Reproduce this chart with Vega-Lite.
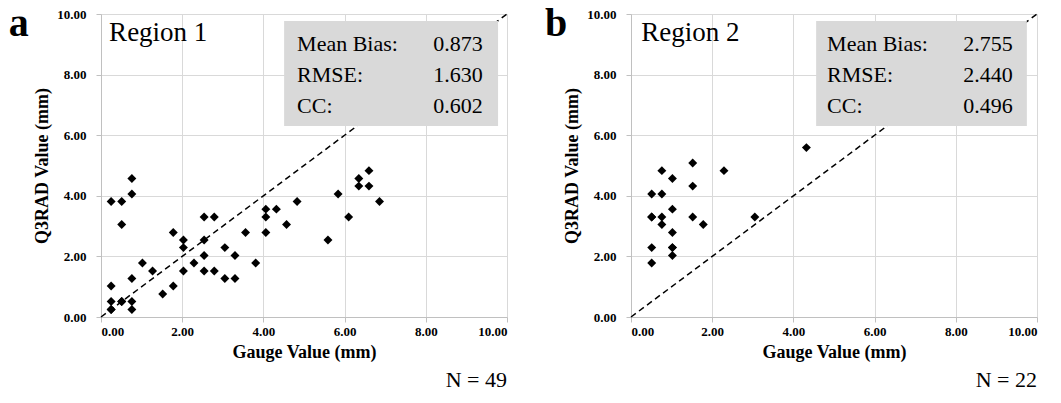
{
  "$schema": "https://vega.github.io/schema/vega-lite/v6.json",
  "padding": {"left": 8, "top": 4, "right": 5, "bottom": 5},
  "background": "white",
  "spacing": 36,
  "config": {
    "view": {"stroke": null},
    "axis": {
      "grid": true,
      "labelFont": "Liberation Serif", "labelFontWeight": "bold", "labelFontSize": 13, "labelColor": "black",
      "titleFont": "Liberation Serif", "titleFontWeight": "bold", "titleFontSize": 18, "titleColor": "black",
      "gridColor": "#d9d9d9", "domainColor": "#c0c0c0", "tickColor": "#c0c0c0", "tickSize": 5
    },
    "axisX": {"labelPadding": 3, "titlePadding": 5},
    "axisY": {"labelPadding": 10, "titlePadding": 5},
    "text": {"font": "Liberation Serif", "color": "black"}
  },
  "datasets": {
    "one": [{}],
    "region1": [
      {"gauge": 0.76, "q3rad": 4.57}, {"gauge": 0.76, "q3rad": 4.06}, {"gauge": 0.25, "q3rad": 3.81},
      {"gauge": 0.51, "q3rad": 3.81}, {"gauge": 0.51, "q3rad": 3.05}, {"gauge": 1.78, "q3rad": 2.79},
      {"gauge": 2.03, "q3rad": 2.54}, {"gauge": 2.03, "q3rad": 2.29}, {"gauge": 1.02, "q3rad": 1.78},
      {"gauge": 1.27, "q3rad": 1.52}, {"gauge": 0.76, "q3rad": 1.27}, {"gauge": 0.25, "q3rad": 1.02},
      {"gauge": 0.25, "q3rad": 0.51}, {"gauge": 0.25, "q3rad": 0.25}, {"gauge": 0.51, "q3rad": 0.51},
      {"gauge": 0.76, "q3rad": 0.51}, {"gauge": 0.76, "q3rad": 0.25}, {"gauge": 1.52, "q3rad": 0.76},
      {"gauge": 1.78, "q3rad": 1.02}, {"gauge": 2.03, "q3rad": 1.52}, {"gauge": 2.29, "q3rad": 1.78},
      {"gauge": 2.54, "q3rad": 2.54}, {"gauge": 2.54, "q3rad": 3.30}, {"gauge": 2.79, "q3rad": 3.30},
      {"gauge": 2.54, "q3rad": 2.03}, {"gauge": 2.54, "q3rad": 1.52}, {"gauge": 2.79, "q3rad": 1.52},
      {"gauge": 3.05, "q3rad": 2.29}, {"gauge": 3.05, "q3rad": 1.27}, {"gauge": 3.30, "q3rad": 2.03},
      {"gauge": 3.30, "q3rad": 1.27}, {"gauge": 3.56, "q3rad": 2.79}, {"gauge": 3.81, "q3rad": 1.78},
      {"gauge": 4.06, "q3rad": 3.56}, {"gauge": 4.06, "q3rad": 3.30}, {"gauge": 4.06, "q3rad": 2.79},
      {"gauge": 4.32, "q3rad": 3.56}, {"gauge": 4.57, "q3rad": 3.05}, {"gauge": 4.83, "q3rad": 3.81},
      {"gauge": 5.59, "q3rad": 2.54}, {"gauge": 5.84, "q3rad": 4.06}, {"gauge": 6.10, "q3rad": 3.30},
      {"gauge": 6.35, "q3rad": 4.57}, {"gauge": 6.35, "q3rad": 4.32}, {"gauge": 6.60, "q3rad": 4.83},
      {"gauge": 6.60, "q3rad": 4.32}, {"gauge": 6.86, "q3rad": 3.81}, {"gauge": 0.25, "q3rad": 0.25},
      {"gauge": 0.51, "q3rad": 0.51}
    ],
    "region2": [
      {"gauge": 0.51, "q3rad": 4.06}, {"gauge": 0.76, "q3rad": 4.06}, {"gauge": 0.76, "q3rad": 4.83},
      {"gauge": 1.02, "q3rad": 4.57}, {"gauge": 1.52, "q3rad": 5.08}, {"gauge": 1.52, "q3rad": 4.32},
      {"gauge": 2.29, "q3rad": 4.83}, {"gauge": 0.51, "q3rad": 3.30}, {"gauge": 0.76, "q3rad": 3.30},
      {"gauge": 0.76, "q3rad": 3.05}, {"gauge": 1.02, "q3rad": 3.56}, {"gauge": 1.02, "q3rad": 2.79},
      {"gauge": 1.52, "q3rad": 3.30}, {"gauge": 1.78, "q3rad": 3.05}, {"gauge": 3.05, "q3rad": 3.30},
      {"gauge": 0.51, "q3rad": 2.29}, {"gauge": 1.02, "q3rad": 2.29}, {"gauge": 1.02, "q3rad": 2.03},
      {"gauge": 0.51, "q3rad": 1.78}, {"gauge": 4.32, "q3rad": 5.59}, {"gauge": 0.51, "q3rad": 3.30},
      {"gauge": 1.02, "q3rad": 2.29}
    ]
  },
  "hconcat": [
    {
      "width": 406, "height": 303,
      "data": {"name": "one"},
      "encoding": {
        "x": {"type": "quantitative", "scale": {"domain": [0, 10], "nice": false},
              "axis": {"title": "Gauge Value (mm)", "values": [0, 2, 4, 6, 8, 10], "format": ".2f", "grid": true}},
        "y": {"type": "quantitative", "scale": {"domain": [0, 10], "nice": false},
              "axis": {"title": "Q3RAD Value (mm)", "values": [0, 2, 4, 6, 8, 10], "format": ".2f", "grid": true}}
      },
      "layer": [
        {"mark": {"type": "rule", "color": "black", "strokeWidth": 1.5, "strokeDash": [6, 4]},
         "encoding": {"x": {"datum": 0}, "y": {"datum": 0}, "x2": {"datum": 10}, "y2": {"datum": 10}}},
        {"mark": {"type": "rect", "color": "#d9d9d9"},
         "encoding": {"x": {"datum": 4.51}, "x2": {"datum": 9.78}, "y": {"datum": 6.30}, "y2": {"datum": 9.77}}},
        {"data": {"name": "region1"},
         "mark": {"type": "point", "shape": "diamond", "filled": true, "color": "black", "size": 80, "opacity": 1},
         "encoding": {"x": {"field": "gauge"}, "y": {"field": "q3rad"}}},
        {"mark": {"type": "text", "text": "a", "fontSize": 40, "fontWeight": "bold", "align": "left", "baseline": "alphabetic"},
         "encoding": {"x": {"datum": -2.27}, "y": {"datum": 9.27}}},
        {"mark": {"type": "text", "text": "Region 1", "fontSize": 27, "align": "left", "baseline": "alphabetic"},
         "encoding": {"x": {"datum": 0.2}, "y": {"datum": 9.11}}},
        {"mark": {"type": "text", "text": "Mean Bias:", "fontSize": 22, "align": "left", "baseline": "alphabetic"},
         "encoding": {"x": {"datum": 4.83}, "y": {"datum": 8.78}}},
        {"mark": {"type": "text", "text": "RMSE:", "fontSize": 22, "align": "left", "baseline": "alphabetic"},
         "encoding": {"x": {"datum": 4.83}, "y": {"datum": 7.76}}},
        {"mark": {"type": "text", "text": "CC:", "fontSize": 22, "align": "left", "baseline": "alphabetic"},
         "encoding": {"x": {"datum": 4.83}, "y": {"datum": 6.73}}},
        {"mark": {"type": "text", "text": "0.873", "fontSize": 22, "align": "right", "baseline": "alphabetic"},
         "encoding": {"x": {"datum": 9.40}, "y": {"datum": 8.78}}},
        {"mark": {"type": "text", "text": "1.630", "fontSize": 22, "align": "right", "baseline": "alphabetic"},
         "encoding": {"x": {"datum": 9.40}, "y": {"datum": 7.76}}},
        {"mark": {"type": "text", "text": "0.602", "fontSize": 22, "align": "right", "baseline": "alphabetic"},
         "encoding": {"x": {"datum": 9.40}, "y": {"datum": 6.73}}},
        {"mark": {"type": "text", "text": "N = 49", "fontSize": 22, "align": "right", "baseline": "middle"},
         "encoding": {"x": {"datum": 10.0}, "y": {"datum": -2.07}}}
      ]
    },
    {
      "width": 406, "height": 303,
      "data": {"name": "one"},
      "encoding": {
        "x": {"type": "quantitative", "scale": {"domain": [0, 10], "nice": false},
              "axis": {"title": "Gauge Value (mm)", "values": [0, 2, 4, 6, 8, 10], "format": ".2f", "grid": true}},
        "y": {"type": "quantitative", "scale": {"domain": [0, 10], "nice": false},
              "axis": {"title": "Q3RAD Value (mm)", "values": [0, 2, 4, 6, 8, 10], "format": ".2f", "grid": true}}
      },
      "layer": [
        {"mark": {"type": "rule", "color": "black", "strokeWidth": 1.5, "strokeDash": [6, 4]},
         "encoding": {"x": {"datum": 0}, "y": {"datum": 0}, "x2": {"datum": 10}, "y2": {"datum": 10}}},
        {"mark": {"type": "rect", "color": "#d9d9d9"},
         "encoding": {"x": {"datum": 4.56}, "x2": {"datum": 9.75}, "y": {"datum": 6.30}, "y2": {"datum": 9.77}}},
        {"data": {"name": "region2"},
         "mark": {"type": "point", "shape": "diamond", "filled": true, "color": "black", "size": 80, "opacity": 1},
         "encoding": {"x": {"field": "gauge"}, "y": {"field": "q3rad"}}},
        {"mark": {"type": "text", "text": "b", "fontSize": 40, "fontWeight": "bold", "align": "left", "baseline": "alphabetic"},
         "encoding": {"x": {"datum": -2.12}, "y": {"datum": 9.27}}},
        {"mark": {"type": "text", "text": "Region 2", "fontSize": 27, "align": "left", "baseline": "alphabetic"},
         "encoding": {"x": {"datum": 0.25}, "y": {"datum": 9.11}}},
        {"mark": {"type": "text", "text": "Mean Bias:", "fontSize": 22, "align": "left", "baseline": "alphabetic"},
         "encoding": {"x": {"datum": 4.83}, "y": {"datum": 8.78}}},
        {"mark": {"type": "text", "text": "RMSE:", "fontSize": 22, "align": "left", "baseline": "alphabetic"},
         "encoding": {"x": {"datum": 4.83}, "y": {"datum": 7.76}}},
        {"mark": {"type": "text", "text": "CC:", "fontSize": 22, "align": "left", "baseline": "alphabetic"},
         "encoding": {"x": {"datum": 4.83}, "y": {"datum": 6.73}}},
        {"mark": {"type": "text", "text": "2.755", "fontSize": 22, "align": "right", "baseline": "alphabetic"},
         "encoding": {"x": {"datum": 9.40}, "y": {"datum": 8.78}}},
        {"mark": {"type": "text", "text": "2.440", "fontSize": 22, "align": "right", "baseline": "alphabetic"},
         "encoding": {"x": {"datum": 9.40}, "y": {"datum": 7.76}}},
        {"mark": {"type": "text", "text": "0.496", "fontSize": 22, "align": "right", "baseline": "alphabetic"},
         "encoding": {"x": {"datum": 9.40}, "y": {"datum": 6.73}}},
        {"mark": {"type": "text", "text": "N = 22", "fontSize": 22, "align": "right", "baseline": "middle"},
         "encoding": {"x": {"datum": 10.0}, "y": {"datum": -2.07}}}
      ]
    }
  ]
}
